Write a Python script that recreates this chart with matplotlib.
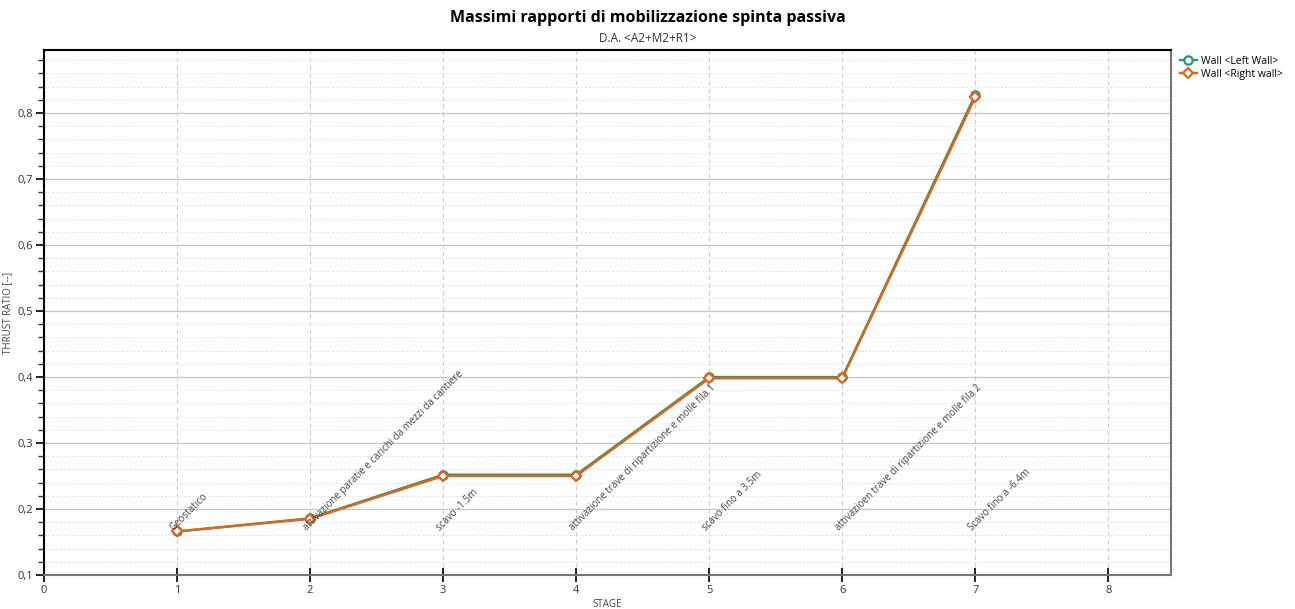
import numpy as np
import matplotlib
matplotlib.use('Agg')
import matplotlib.pyplot as plt
from matplotlib.ticker import MultipleLocator, FuncFormatter

plt.rcParams['font.family'] = ['Open Sans', 'DejaVu Sans']

# data
stages = [1, 2, 3, 4, 5, 6, 7]
left_wall = [0.166, 0.186, 0.252, 0.252, 0.400, 0.400, 0.828]
right_wall = [0.166, 0.185, 0.250, 0.250, 0.398, 0.398, 0.824]
stage_names = [
    'Geostatico',
    'attivazione paratie e carichi da mezzi da cantiere',
    'scavo -1.5m',
    'attivazione trave di ripartizione e molle fila 1',
    'scavo fino a 3.5m',
    'attivazioen trave di ripartizione e molle fila 2',
    'Scavo fino a -6.4m',
]

green = '#1f9a74'
orange = '#e0661a'

fig = plt.figure(figsize=(12.95, 6.09), dpi=100)
ax = fig.add_axes([0.034, 0.0558, 0.8702, 0.8621])

ax.set_xlim(0, 8.47)
ax.set_ylim(0.1, 0.8955)

ax.yaxis.set_major_locator(MultipleLocator(0.1))
ax.yaxis.set_minor_locator(MultipleLocator(0.02))
ax.xaxis.set_major_locator(MultipleLocator(1))
ax.yaxis.set_major_formatter(FuncFormatter(lambda v, p: ('%.1f' % v).replace('.', ',')))

ax.grid(which='major', axis='y', color='#c8c8c8', lw=1.0, ls='-')
ax.grid(which='minor', axis='y', color='#e2e2e2', lw=0.7, ls=(0, (2, 2)))
ax.grid(which='major', axis='x', color='#cccccc', lw=0.8, ls=(0, (4, 3)))
ax.set_axisbelow(True)

ax.plot(stages, left_wall, color=green, lw=1.7, marker='o', ms=6,
        mfc='white', mec=green, mew=1.6, label='Wall <Left Wall>', zorder=3)
ax.plot(stages, right_wall, color=orange, lw=1.7, marker='D', ms=5.5,
        mfc='white', mec=orange, mew=1.6, label='Wall <Right wall>', zorder=4)

for s, name in zip(stages, stage_names):
    ax.text(s - 0.01, 0.163, name, rotation=45, rotation_mode='anchor',
            ha='left', va='bottom', fontsize=7, color='#444444', zorder=5)

for side in ['left', 'top']:
    ax.spines[side].set_color('black')
    ax.spines[side].set_linewidth(1.5)
for side in ['bottom', 'right']:
    ax.spines[side].set_color('#777777')
    ax.spines[side].set_linewidth(1.5)

ax.tick_params(axis='y', which='major', length=6, width=1.2, color='black',
               labelsize=8, labelcolor='#333333', pad=2)
ax.tick_params(axis='y', which='minor', length=4, width=1.0, color='#333333')
ax.tick_params(axis='x', which='major', direction='inout', length=10, width=1.2,
               color='black', labelsize=8, labelcolor='#333333', pad=2)

ax.set_xlabel('STAGE', fontsize=7, color='#444444')
ax.set_ylabel('THRUST RATIO [--]', fontsize=7, color='#444444')
ax.xaxis.set_label_coords(0.5, -0.046)
ax.yaxis.set_label_coords(-0.027, 0.5)

fig.text(0.5, 0.97, 'Massimi rapporti di mobilizzazione spinta passiva',
         ha='center', va='center', fontsize=11.5, fontweight='bold')
fig.text(0.5, 0.937, 'D.A. <A2+M2+R1>', ha='center', va='center',
         fontsize=8.5, color='#333333')

fig.legend(loc='upper left', bbox_to_anchor=(0.908, 0.915), frameon=False,
           fontsize=7.5, handlelength=1.6, handletextpad=0.4, labelspacing=0.2,
           borderaxespad=0)

fig.savefig('out.png', dpi=100)
